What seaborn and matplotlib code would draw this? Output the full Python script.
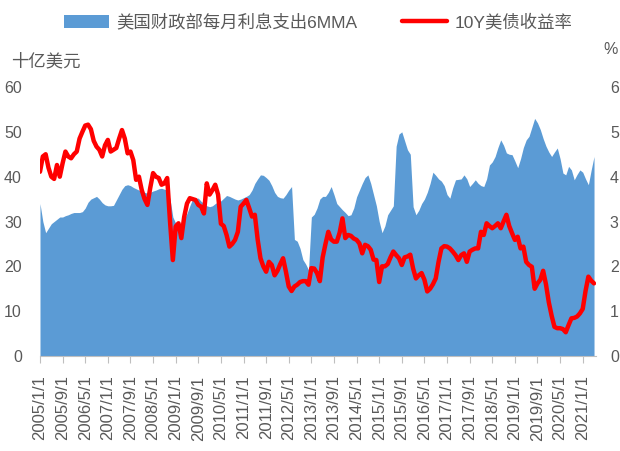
import numpy as np
import pandas as pd
import matplotlib
matplotlib.use("Agg")
import matplotlib.pyplot as plt
from matplotlib.patches import Patch
from matplotlib.lines import Line2D
import seaborn as sns

# ---- data (monthly, 2005/1 .. 2021/5) ----
interest_6mma = [
    # 2005
    34.0, 30.0, 27.5, 28.5, 29.5, 30.0, 30.5, 31.0, 31.0, 31.3, 31.5, 31.8,
    # 2006
    32.0, 32.0, 32.0, 32.2, 33.0, 34.3, 35.0, 35.3, 35.6, 35.0, 34.2, 33.7,
    # 2007
    33.5, 33.5, 33.6, 34.8, 36.0, 37.2, 38.0, 38.2, 38.0, 37.6, 37.3, 37.0,
    # 2008
    36.7, 36.5, 36.3, 36.5, 36.8, 37.0, 37.3, 37.4, 37.2, 37.0, 35.0, 31.0,
    # 2009
    29.6, 29.0, 29.0, 30.5, 31.8, 33.5, 35.0, 35.2, 35.2, 34.5, 34.0, 33.5,
    # 2010
    33.3, 33.5, 34.0, 34.4, 34.6, 35.2, 35.8, 35.6, 35.3, 35.0, 34.8, 35.0,
    # 2011
    35.3, 35.6, 36.0, 37.0, 38.5, 39.5, 40.4, 40.3, 39.8, 39.2, 38.0, 36.5,
    # 2012
    35.6, 35.3, 35.2, 36.0, 37.0, 37.8, 26.0, 25.6, 24.0, 21.5, 20.5, 19.2,
    # 2013
    31.0, 31.6, 33.0, 35.0, 35.6, 35.6, 36.5, 37.8, 36.0, 34.0, 33.3, 32.6,
    # 2014
    32.0, 31.3, 31.5, 33.0, 35.5, 37.0, 38.5, 39.8, 40.4, 38.5, 36.0, 33.5,
    # 2015
    30.0, 27.5, 29.0, 31.5, 32.5, 33.5, 46.8, 49.5, 50.0, 48.0, 46.0, 45.0,
    # 2016
    33.3, 31.5, 32.5, 34.0, 35.0, 36.5, 38.5, 41.0, 40.3, 39.5, 39.0, 38.0,
    # 2017
    36.0, 35.2, 37.5, 39.3, 39.4, 39.5, 40.4, 39.5, 37.8, 38.5, 39.3, 38.5,
    # 2018
    38.0, 37.8, 39.5, 42.6, 43.3, 44.5, 46.5, 48.2, 47.0, 45.3, 45.0, 44.9,
    # 2019
    43.5, 42.0, 44.0, 46.5, 48.2, 49.0, 51.0, 53.0, 52.0, 50.5, 48.5, 46.8,
    # 2020
    45.5, 44.5, 45.5, 46.4, 44.0, 40.8, 40.4, 42.3, 41.5, 39.3, 40.5, 41.5,
    # 2021
    41.0, 39.5, 38.2, 41.5, 44.5,
]

yield_10y = [
    # 2005
    4.11, 4.45, 4.50, 4.20, 4.00, 3.95, 4.26, 4.00, 4.30, 4.56, 4.45, 4.41,
    # 2006
    4.50, 4.56, 4.85, 5.00, 5.14, 5.16, 5.06, 4.80, 4.67, 4.60, 4.45, 4.70,
    # 2007
    4.82, 4.56, 4.60, 4.64, 4.85, 5.04, 4.85, 4.52, 4.56, 4.37, 3.93, 4.00,
    # 2008
    3.70, 3.50, 3.37, 3.75, 4.08, 4.00, 3.97, 3.82, 3.85, 3.97, 3.00, 2.14,
    # 2009
    2.89, 2.96, 2.63, 3.10, 3.40, 3.52, 3.50, 3.48, 3.37, 3.33, 3.18, 3.85,
    # 2010
    3.60, 3.70, 3.82, 3.60, 2.95, 2.90, 2.70, 2.44, 2.50, 2.59, 2.77, 3.33,
    # 2011
    3.40, 3.48, 3.30, 3.11, 3.15, 2.60, 2.18, 2.00, 1.88, 2.10, 2.03, 1.80,
    # 2012
    1.90, 2.05, 2.18, 1.88, 1.55, 1.45, 1.55, 1.59, 1.65, 1.67, 1.67, 1.59,
    # 2013
    1.96, 1.95, 1.85, 1.67, 2.20, 2.50, 2.77, 2.60, 2.55, 2.55, 2.75, 3.07,
    # 2014
    2.63, 2.70, 2.68, 2.62, 2.59, 2.51, 2.29, 2.48, 2.45, 2.37, 2.15, 2.14,
    # 2015
    1.65, 2.00, 2.00, 2.05, 2.20, 2.33, 2.25, 2.18, 2.03, 2.20, 2.22, 2.26,
    # 2016
    1.95, 1.73, 1.80, 1.85, 1.70, 1.44, 1.50, 1.60, 1.73, 2.10, 2.40, 2.45,
    # 2017
    2.44, 2.40, 2.33, 2.25, 2.14, 2.25, 2.29, 2.10, 2.33, 2.37, 2.40, 2.40,
    # 2018
    2.77, 2.70, 2.96, 2.90, 2.85, 2.90, 2.96, 2.85, 3.00, 3.15, 2.90, 2.74,
    # 2019
    2.59, 2.66, 2.40, 2.44, 2.10, 2.03, 1.99, 1.50, 1.62, 1.70, 1.90, 1.60,
    # 2020
    1.20, 0.90, 0.65, 0.62, 0.62, 0.60, 0.53, 0.69, 0.84, 0.85, 0.88, 0.95,
    # 2021
    1.05, 1.45, 1.77, 1.68, 1.62,
]

tick_labels = [
    "2005/1/1", "2005/9/1", "2006/5/1", "2007/1/1", "2007/9/1", "2008/5/1",
    "2009/1/1", "2009/9/1", "2010/5/1", "2011/1/1", "2011/9/1", "2012/5/1",
    "2013/1/1", "2013/9/1", "2014/5/1", "2015/1/1", "2015/9/1", "2016/5/1",
    "2017/1/1", "2017/9/1", "2018/5/1", "2019/1/1", "2019/9/1", "2020/5/1",
    "2021/1/1",
]

area_label = "美国财政部每月利息支出6MMA"
line_label = "10Y美债收益率"
left_unit = "十亿美元"
right_unit = "%"

# ---- build frame ----
n = len(interest_6mma)
df = pd.DataFrame({
    "month": np.arange(n),
    "interest": interest_6mma,
    "yield": yield_10y,
})

sns.set_style("white")
plt.rcParams["font.family"] = ["Liberation Sans", "Noto Sans CJK SC", "DejaVu Sans"]

grey = "#595959"
blue = "#5B9BD5"
red = "#FF0000"

fig = plt.figure(figsize=(6.2, 4.51), dpi=100)
ax = fig.add_axes([40 / 620, 1 - 356 / 451, 556 / 620, 269 / 451])

ax.fill_between(df["month"], df["interest"], 0, color=blue, linewidth=0, zorder=1)
ax.set_ylim(0, 60)
ax.set_yticks(range(0, 61, 10))
ax.set_xlim(0, 196.7)

tick_pos = list(range(0, 8 * len(tick_labels), 8))
ax.set_xticks(tick_pos)
ax.set_xticklabels(tick_labels, rotation=90, fontsize=12, color=grey)
ax.tick_params(axis="x", which="major", direction="out", length=5, width=0.8,
               color="#BFBFBF", pad=9, bottom=True)
ax.tick_params(axis="y", length=0, labelsize=11.5, labelcolor=grey, pad=13)

for s in ["top", "right", "left"]:
    ax.spines[s].set_visible(False)
ax.spines["bottom"].set_color("#BFBFBF")
ax.spines["bottom"].set_linewidth(0.8)

ax2 = ax.twinx()
sns.lineplot(data=df, x="month", y="yield", ax=ax2, color=red, linewidth=3.2,
             legend=False, zorder=3)
ax2.set_ylim(0, 6)
ax2.set_yticks(range(0, 7))
ax2.set_xlim(0, 196.7)
ax2.tick_params(axis="y", length=0, labelsize=11.5, labelcolor=grey, pad=10)
ax2.set_ylabel("")
ax.set_xlabel("")
ax.set_ylabel("")
for s in ["top", "right", "left", "bottom"]:
    ax2.spines[s].set_visible(False)

# unit labels
fig.text(11 / 620, 1 - 61 / 451, left_unit, fontsize=12.5, color=grey,
         ha="left", va="center")
fig.text(611 / 620, 1 - 50 / 451, right_unit, fontsize=11.5, color=grey,
         ha="center", va="center")

# legend
handles = [
    Patch(facecolor=blue, edgecolor="none"),
    Line2D([0], [0], color=red, linewidth=3.2),
]
fig.legend(handles, [area_label, line_label], loc="center",
           bbox_to_anchor=(318 / 620, 1 - 22 / 451), ncol=2, frameon=False,
           fontsize=12.5, handlelength=2.6, handleheight=0.8, handletextpad=0.4,
           columnspacing=2.6, labelcolor=grey)

fig.savefig("out.png", dpi=100)
